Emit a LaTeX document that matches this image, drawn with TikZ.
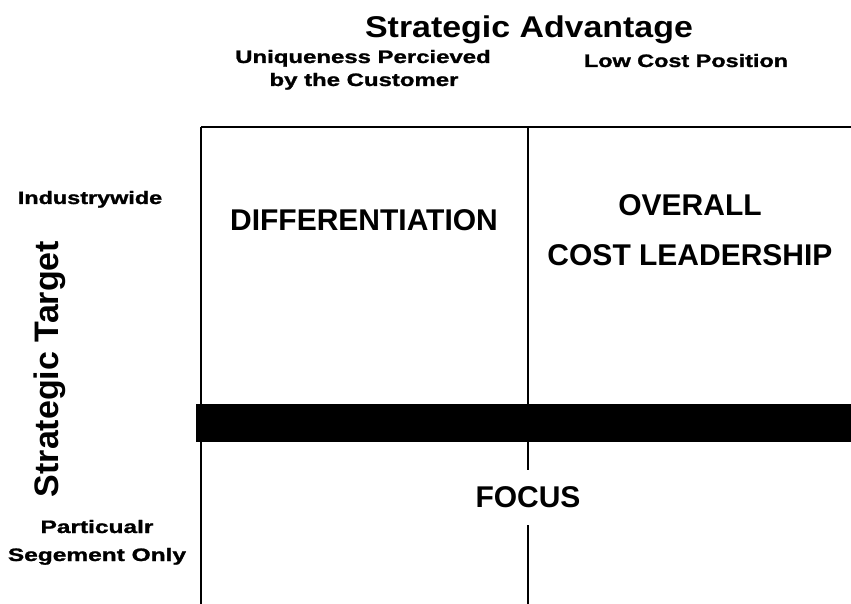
\documentclass[tikz,border=0pt]{standalone}
\usepackage{fontspec}
\usepackage{graphicx}
\setmainfont{Liberation Sans}
\newfontfamily\heavysans[FakeBold=1.2]{Liberation Sans Bold}
\begin{document}
\begin{tikzpicture}[x=1pt,y=-1pt,
  grid/.style={line width=2pt,black},
  bigtext/.style={anchor=base,inner sep=0pt,font=\bfseries\fontsize{30}{36}\selectfont},
  smalltext/.style={anchor=base,inner sep=0pt,font=\heavysans\fontsize{18}{21}\selectfont}]
  % canvas
  \fill[white] (0,0) rectangle (851,604);
  \useasboundingbox (0,0) rectangle (851,604);

  % frame corners and split points
  \coordinate (tl) at (201,127);
  \coordinate (tr) at (851,127);
  \coordinate (bl) at (201,604);
  \coordinate (mt) at (528,127);
  \coordinate (mgapa) at (528,470);
  \coordinate (mgapb) at (528,525);
  \coordinate (mb) at (528,604);

  % grid lines
  \draw[grid] (tl) -- (tr);
  \draw[grid] (tl) -- (bl);
  \draw[grid] (mt) -- (mgapa);
  \draw[grid] (mgapb) -- (mb);

  % heavy divider between broad and narrow target
  \coordinate (barl) at (196,404);
  \coordinate (barr) at (851,442);
  \fill[black] (barl) rectangle (barr);

  % headings
  \node[bigtext] (adv) at (529,38) {\scalebox{1.13}[1]{Strategic Advantage}};
  \node[smalltext] (uniq1) at (363,63) {\scalebox{1.33}[1]{Uniqueness Percieved}};
  \node[smalltext] (uniq2) at (364,86) {\scalebox{1.33}[1]{by the Customer}};
  \node[smalltext] (low) at (686,67) {\scalebox{1.3}[1]{Low Cost Position}};

  \node[smalltext] (ind) at (90,204) {\scalebox{1.3}[1]{Industrywide}};
  \node[smalltext] (part) at (97,533) {\scalebox{1.36}[1]{Particualr}};
  \node[smalltext] (seg) at (97,561) {\scalebox{1.36}[1]{Segement Only}};

  \node[inner sep=0pt,rotate=90,font=\bfseries\fontsize{34}{40}\selectfont] (target) at (50,369) {Strategic Target};

  % quadrant labels
  \node[bigtext] (diff) at (364,230) {DIFFERENTIATION};
  \node[bigtext] (over) at (690,215) {OVERALL};
  \node[bigtext] (cost) at (690,265) {COST LEADERSHIP};
  \node[bigtext] (focus) at (528,507) {FOCUS};
\end{tikzpicture}
\end{document}
